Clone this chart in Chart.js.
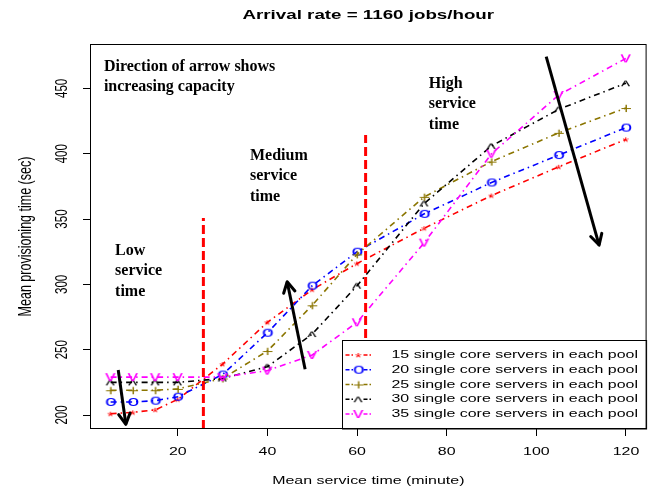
<!DOCTYPE html>
<html>
<head>
<meta charset="utf-8">
<script src="https://cdn.jsdelivr.net/npm/chart.js@4.4.1/dist/chart.umd.min.js"></script>
<style>
  html, body { margin: 0; padding: 0; background: #fff; }
</style>
</head>
<body>
<canvas id="provChart" width="656" height="495"></canvas>
<script>
// Mean service time (minute)
const serviceTimes = [5, 10, 15, 20, 30, 40, 50, 60, 75, 90, 105, 120];

// Mean provisioning time (sec), one list per pool size
const servers15 = [201, 202, 204, 212, 239, 271, 296, 316, 343, 368, 390, 411];
const servers20 = [210, 210, 211, 214, 231, 263, 299, 325, 354, 378, 399, 420];
const servers25 = [219, 219, 219, 220, 228, 249, 284, 323, 367, 394, 416, 435];
const servers30 = [225, 225, 225, 225, 228, 237, 262, 299, 362, 406, 434, 454];
const servers35 = [229, 229, 229, 229, 229, 234, 246, 271, 332, 400, 445, 473];

const seriesLabels = [
	'15 single core servers in each pool',
	'20 single core servers in each pool',
	'25 single core servers in each pool',
	'30 single core servers in each pool',
	'35 single core servers in each pool',
];

const xTicks = [20, 40, 60, 80, 100, 120];
const yTicks = [200, 250, 300, 350, 400, 450];

// dashed red boundaries between low / medium / high service time
const boundaryX = [25.7, 61.9];
const boundaryTop = [350.8, 414.3];

// arrows, tail -> head, in data units
const arrowLow = [[6.7, 234.5], [8.4, 192.9]];
const arrowMid = [[48.4, 235], [44.4, 302]];
const arrowHigh = [[102.2, 474.3], [114.0, 330.1]];

// axis limits (R adds 4% on each side)
const xMin = 0.4, xMax = 124.6;
const yMin = 189.3, yMax = 484;

// styles
const seriesColors = ['#ff0000', '#0000ff', '#8b7500', '#000000', '#ff00ff'];
const seriesGlyphs = ['*', 'o', '+', '^', 'v'];
const glyphSizes = [12, 15, 14, 14, 15];
const SX = 1.4; // the original R picture was stretched sideways
const sans = '"Liberation Sans", Arial, sans-serif';
const serif = '"Liberation Serif", "Times New Roman", serif';

// Draw a marker char like R's pch="o" into a small canvas, centred on its ink
function makeGlyph(ch, color, size) {
	const c = document.createElement('canvas');
	c.width = 24;
	c.height = 24;
	const g = c.getContext('2d');
	g.font = size + 'px ' + sans;
	const m = g.measureText(ch);
	g.translate(12, 12);
	g.scale(SX, 1);
	g.fillStyle = color;
	g.fillText(ch, -(m.actualBoundingBoxRight - m.actualBoundingBoxLeft) / 2,
		(m.actualBoundingBoxAscent - m.actualBoundingBoxDescent) / 2);
	return c;
}
const glyphs = seriesGlyphs.map((ch, i) => makeGlyph(ch, seriesColors[i], glyphSizes[i]));

// Text the way R drew it (stretched sideways)
function rText(ctx, str, x, y, size, opts = {}) {
	ctx.save();
	ctx.translate(x, y);
	ctx.scale(SX, 1);
	if (opts.rotate) ctx.rotate(opts.rotate);
	ctx.font = (opts.bold ? 'bold ' : '') + size + 'px ' + sans;
	ctx.fillStyle = '#000';
	ctx.textAlign = opts.align || 'center';
	ctx.textBaseline = 'middle';
	ctx.fillText(str, 0, 0);
	ctx.restore();
}

const allSeries = [servers15, servers20, servers25, servers30, servers35];
const datasets = allSeries.map((vals, i) => ({
	label: seriesLabels[i],
	data: serviceTimes.map((t, k) => ({ x: t, y: vals[k] })),
	borderColor: seriesColors[i],
	borderWidth: 1.6,
	borderDash: [6, 4, 1.5, 4],
	pointStyle: glyphs[i],
	pointRadius: 3,
	fill: false,
	order: 10 - i,
}));

// boundary lines
boundaryX.forEach((bx, i) => {
	datasets.push({
		label: 'boundary',
		data: [{ x: bx, y: yMin }, { x: bx, y: boundaryTop[i] }],
		borderColor: '#ff0000',
		borderWidth: 3,
		borderDash: [9, 4],
		pointRadius: 0,
		order: 2,
	});
});

// arrows
[arrowLow, arrowMid, arrowHigh].forEach((arr) => {
	datasets.push({
		label: 'arrow',
		isArrow: true,
		data: arr.map(([x, y]) => ({ x, y })),
		borderColor: '#000',
		borderWidth: 3,
		pointRadius: 0,
		order: 1,
	});
});

const decorations = {
	id: 'decorations',
	afterDatasetsDraw(chart) {
		const { ctx, chartArea: a, scales } = chart;
		const sx = scales.x, sy = scales.y;

		// arrow heads
		chart.data.datasets.forEach((ds) => {
			if (!ds.isArrow) return;
			const p0 = ds.data[0], p1 = ds.data[1];
			const x0 = sx.getPixelForValue(p0.x), y0 = sy.getPixelForValue(p0.y);
			const x1 = sx.getPixelForValue(p1.x), y1 = sy.getPixelForValue(p1.y);
			const ang = Math.atan2(y1 - y0, x1 - x0);
			ctx.save();
			ctx.strokeStyle = '#000';
			ctx.lineWidth = 3;
			ctx.lineCap = 'round';
			ctx.beginPath();
			for (const s of [-1, 1]) {
				ctx.moveTo(x1, y1);
				ctx.lineTo(x1 - 12 * Math.cos(ang + s * 0.5), y1 - 12 * Math.sin(ang + s * 0.5));
			}
			ctx.stroke();
			ctx.restore();
		});

		// legend in the bottom right corner
		const lx = 342.5, ly = 340.5;
		ctx.save();
		ctx.fillStyle = '#fff';
		ctx.fillRect(lx, ly, a.right - lx, a.bottom - ly);
		ctx.strokeStyle = '#000';
		ctx.lineWidth = 1;
		ctx.strokeRect(lx, ly, a.right - lx, a.bottom - ly);
		seriesLabels.forEach((lab, i) => {
			const yy = ly + 14.5 + i * 14.75;
			ctx.strokeStyle = seriesColors[i];
			ctx.lineWidth = 1.5;
			ctx.setLineDash([4, 2, 1.5, 2]);
			ctx.beginPath();
			ctx.moveTo(lx + 3, yy);
			ctx.lineTo(lx + 11, yy);
			ctx.moveTo(lx + 21, yy);
			ctx.lineTo(lx + 29, yy);
			ctx.stroke();
			ctx.setLineDash([]);
			ctx.drawImage(glyphs[i], lx + 16 - 12, yy - 12);
			rText(ctx, lab, lx + 49, yy, 11.4, { align: 'left' });
		});
		ctx.restore();

		// plot box
		ctx.save();
		ctx.strokeStyle = '#000';
		ctx.lineWidth = 1;
		ctx.strokeRect(a.left + 0.5, a.top + 0.5, a.right - a.left - 1, a.bottom - a.top - 1);
		ctx.restore();
	},
	afterDraw(chart) {
		const { ctx, chartArea: a, scales } = chart;
		const sx = scales.x, sy = scales.y;
		const midX = (a.left + a.right) / 2;

		// titles and tick labels
		rText(ctx, 'Arrival rate = 1160 jobs/hour', midX, 15, 13.4, { bold: true });
		rText(ctx, 'Mean service time (minute)', midX, 481, 11.4);
		rText(ctx, 'Mean provisioning time (sec)', 26, (a.top + a.bottom) / 2, 12.5, { rotate: -Math.PI / 2 });
		xTicks.forEach((v) => rText(ctx, String(v), sx.getPixelForValue(v), 452, 11.4));
		yTicks.forEach((v) => rText(ctx, String(v), 63, sy.getPixelForValue(v), 11.5, { rotate: -Math.PI / 2 }));

		// annotations
		ctx.save();
		ctx.font = 'bold 16px ' + serif;
		ctx.fillStyle = '#000';
		ctx.textBaseline = 'alphabetic';
		const notes = [
			[3.5, 463.3, ['Direction of arrow shows', 'increasing capacity']],
			[6.0, 322.5, ['Low', 'service', 'time']],
			[36.1, 395.2, ['Medium', 'service', 'time']],
			[76.0, 450.3, ['High', 'service', 'time']],
		];
		notes.forEach(([x, y, lines]) => {
			const px = sx.getPixelForValue(x), py = sy.getPixelForValue(y);
			lines.forEach((t, k) => ctx.fillText(t, px, py + k * 20.3));
		});
		ctx.restore();
	},
};

const ctx = document.getElementById('provChart').getContext('2d');

const chart = new Chart(ctx, {
	type: 'line',
	data: { datasets },
	options: {
		responsive: false,
		animation: false,
		layout: { padding: { top: 44, right: 9.4, left: 0, bottom: 0 } },
		plugins: {
			legend: { display: false },
			tooltip: { enabled: false },
		},
		scales: {
			x: {
				type: 'linear',
				min: xMin,
				max: xMax,
				afterBuildTicks: (s) => { s.ticks = xTicks.map((v) => ({ value: v })); },
				afterFit: (s) => { s.height = 66; },
				ticks: { display: false },
				grid: { drawOnChartArea: false, drawTicks: true, tickLength: 7, color: '#000' },
				border: { display: false },
			},
			y: {
				type: 'linear',
				min: yMin,
				max: yMax,
				afterBuildTicks: (s) => { s.ticks = yTicks.map((v) => ({ value: v })); },
				afterFit: (s) => { s.width = 90; },
				ticks: { display: false },
				grid: { drawOnChartArea: false, drawTicks: true, tickLength: 7, color: '#000' },
				border: { display: false },
			},
		},
	},
	plugins: [decorations],
});
</script>
</body>
</html>
